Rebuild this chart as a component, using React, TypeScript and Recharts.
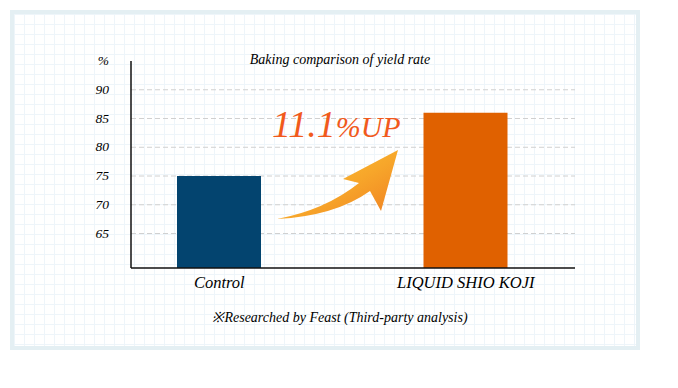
import React from 'react';
import { BarChart, Bar, XAxis, YAxis, CartesianGrid, Cell, Customized } from 'recharts';

const categories = ['Control', 'LIQUID SHIO KOJI'];
const yieldRate = [75, 86];
const barColors = ['#03446f', '#e06100'];
const yTicks = [65, 70, 75, 80, 85, 90, 95];
const gridValues = [65, 70, 75, 80, 85, 90];
const title = 'Baking comparison of yield rate';
const note = '※Researched by Feast (Third-party analysis)';
const upLabel = ['11.1', '%UP'];

const data = categories.map((c, i) => ({ name: c, value: yieldRate[i] }));

const FONT = "'Liberation Serif', 'Times New Roman', serif";
const serif = { fontFamily: FONT, fontStyle: 'italic' as const };

const Decor = () => (
  <g>
    <defs>
      <linearGradient id="arrowGrad" x1="0" y1="0" x2="1" y2="1">
        <stop offset="0%" stopColor="#fcc834" />
        <stop offset="55%" stopColor="#f7a62a" />
        <stop offset="100%" stopColor="#ef7e22" />
      </linearGradient>
    </defs>
    <path
      d="M 277 219 Q 335 216 370 191 L 381 211 L 398 150 L 343 179 L 359 183 Q 325 210 277 219 Z"
      fill="url(#arrowGrad)"
    />
    <text x={272} y={137} fill="#f15a1c" style={serif}>
      <tspan style={{ fontSize: 38 }}>{upLabel[0]}</tspan>
      <tspan style={{ fontSize: 30 }}>{upLabel[1]}</tspan>
    </text>
    <text x={340} y={64} textAnchor="middle" fill="#000" style={{ ...serif, fontSize: 14 }}>
      {title}
    </text>
    <text x={340} y={322} textAnchor="middle" fill="#000" style={{ ...serif, fontSize: 14 }}>
      {note}
    </text>
  </g>
);

const YTick = (props: any) => {
  const { x, y, payload } = props;
  const label = payload.value === 95 ? '%' : String(payload.value);
  return (
    <text x={x} y={y} dy={4} textAnchor="end" fill="#000" style={{ ...serif, fontSize: 13.5 }}>
      {label}
    </text>
  );
};

const XTick = (props: any) => {
  const { x, y, payload } = props;
  return (
    <text x={x} y={y} dy={12} textAnchor="middle" fill="#000" style={{ ...serif, fontSize: 16.5 }}>
      {payload.value}
    </text>
  );
};

export default function App() {
  return (
    <div
      style={{
        position: 'absolute',
        left: 0,
        top: 0,
        width: 678,
        height: 388,
        background: '#fff',
        fontFamily: FONT,
      }}
    >
      <div
        style={{
          position: 'absolute',
          left: 10,
          top: 10,
          width: 622,
          height: 332,
          border: '4px solid #e4eff3',
          backgroundColor: '#fff',
          backgroundImage:
            'linear-gradient(to right, #eef5fa 1px, transparent 1px), linear-gradient(to bottom, #eef5fa 1px, transparent 1px)',
          backgroundSize: '10px 10px',
        }}
      />
      <div style={{ position: 'absolute', left: 0, top: 0 }}>
        <BarChart
          width={678}
          height={388}
          data={data}
          margin={{ top: 61, right: 103, bottom: 90, left: 91 }}
        >
          <CartesianGrid
            vertical={false}
            horizontalValues={gridValues}
            stroke="#d0d0d0"
            strokeDasharray="5 3"
          />
          <XAxis
            dataKey="name"
            height={30}
            padding={{ left: -35, right: -14 }}
            tickLine={false}
            axisLine={{ stroke: '#111', strokeWidth: 1.5 }}
            tick={<XTick />}
            interval={0}
          />
          <YAxis
            width={40}
            domain={[59, 95]}
            ticks={yTicks}
            type="number"
            allowDataOverflow
            tickLine={false}
            tickSize={0}
            tickMargin={22}
            axisLine={{ stroke: '#111', strokeWidth: 1.5 }}
            tick={<YTick />}
          />
          <Bar dataKey="value" barSize={84} isAnimationActive={false}>
            {data.map((d, i) => (
              <Cell key={d.name} fill={barColors[i]} />
            ))}
          </Bar>
          <Customized component={Decor} />
        </BarChart>
      </div>
    </div>
  );
}
